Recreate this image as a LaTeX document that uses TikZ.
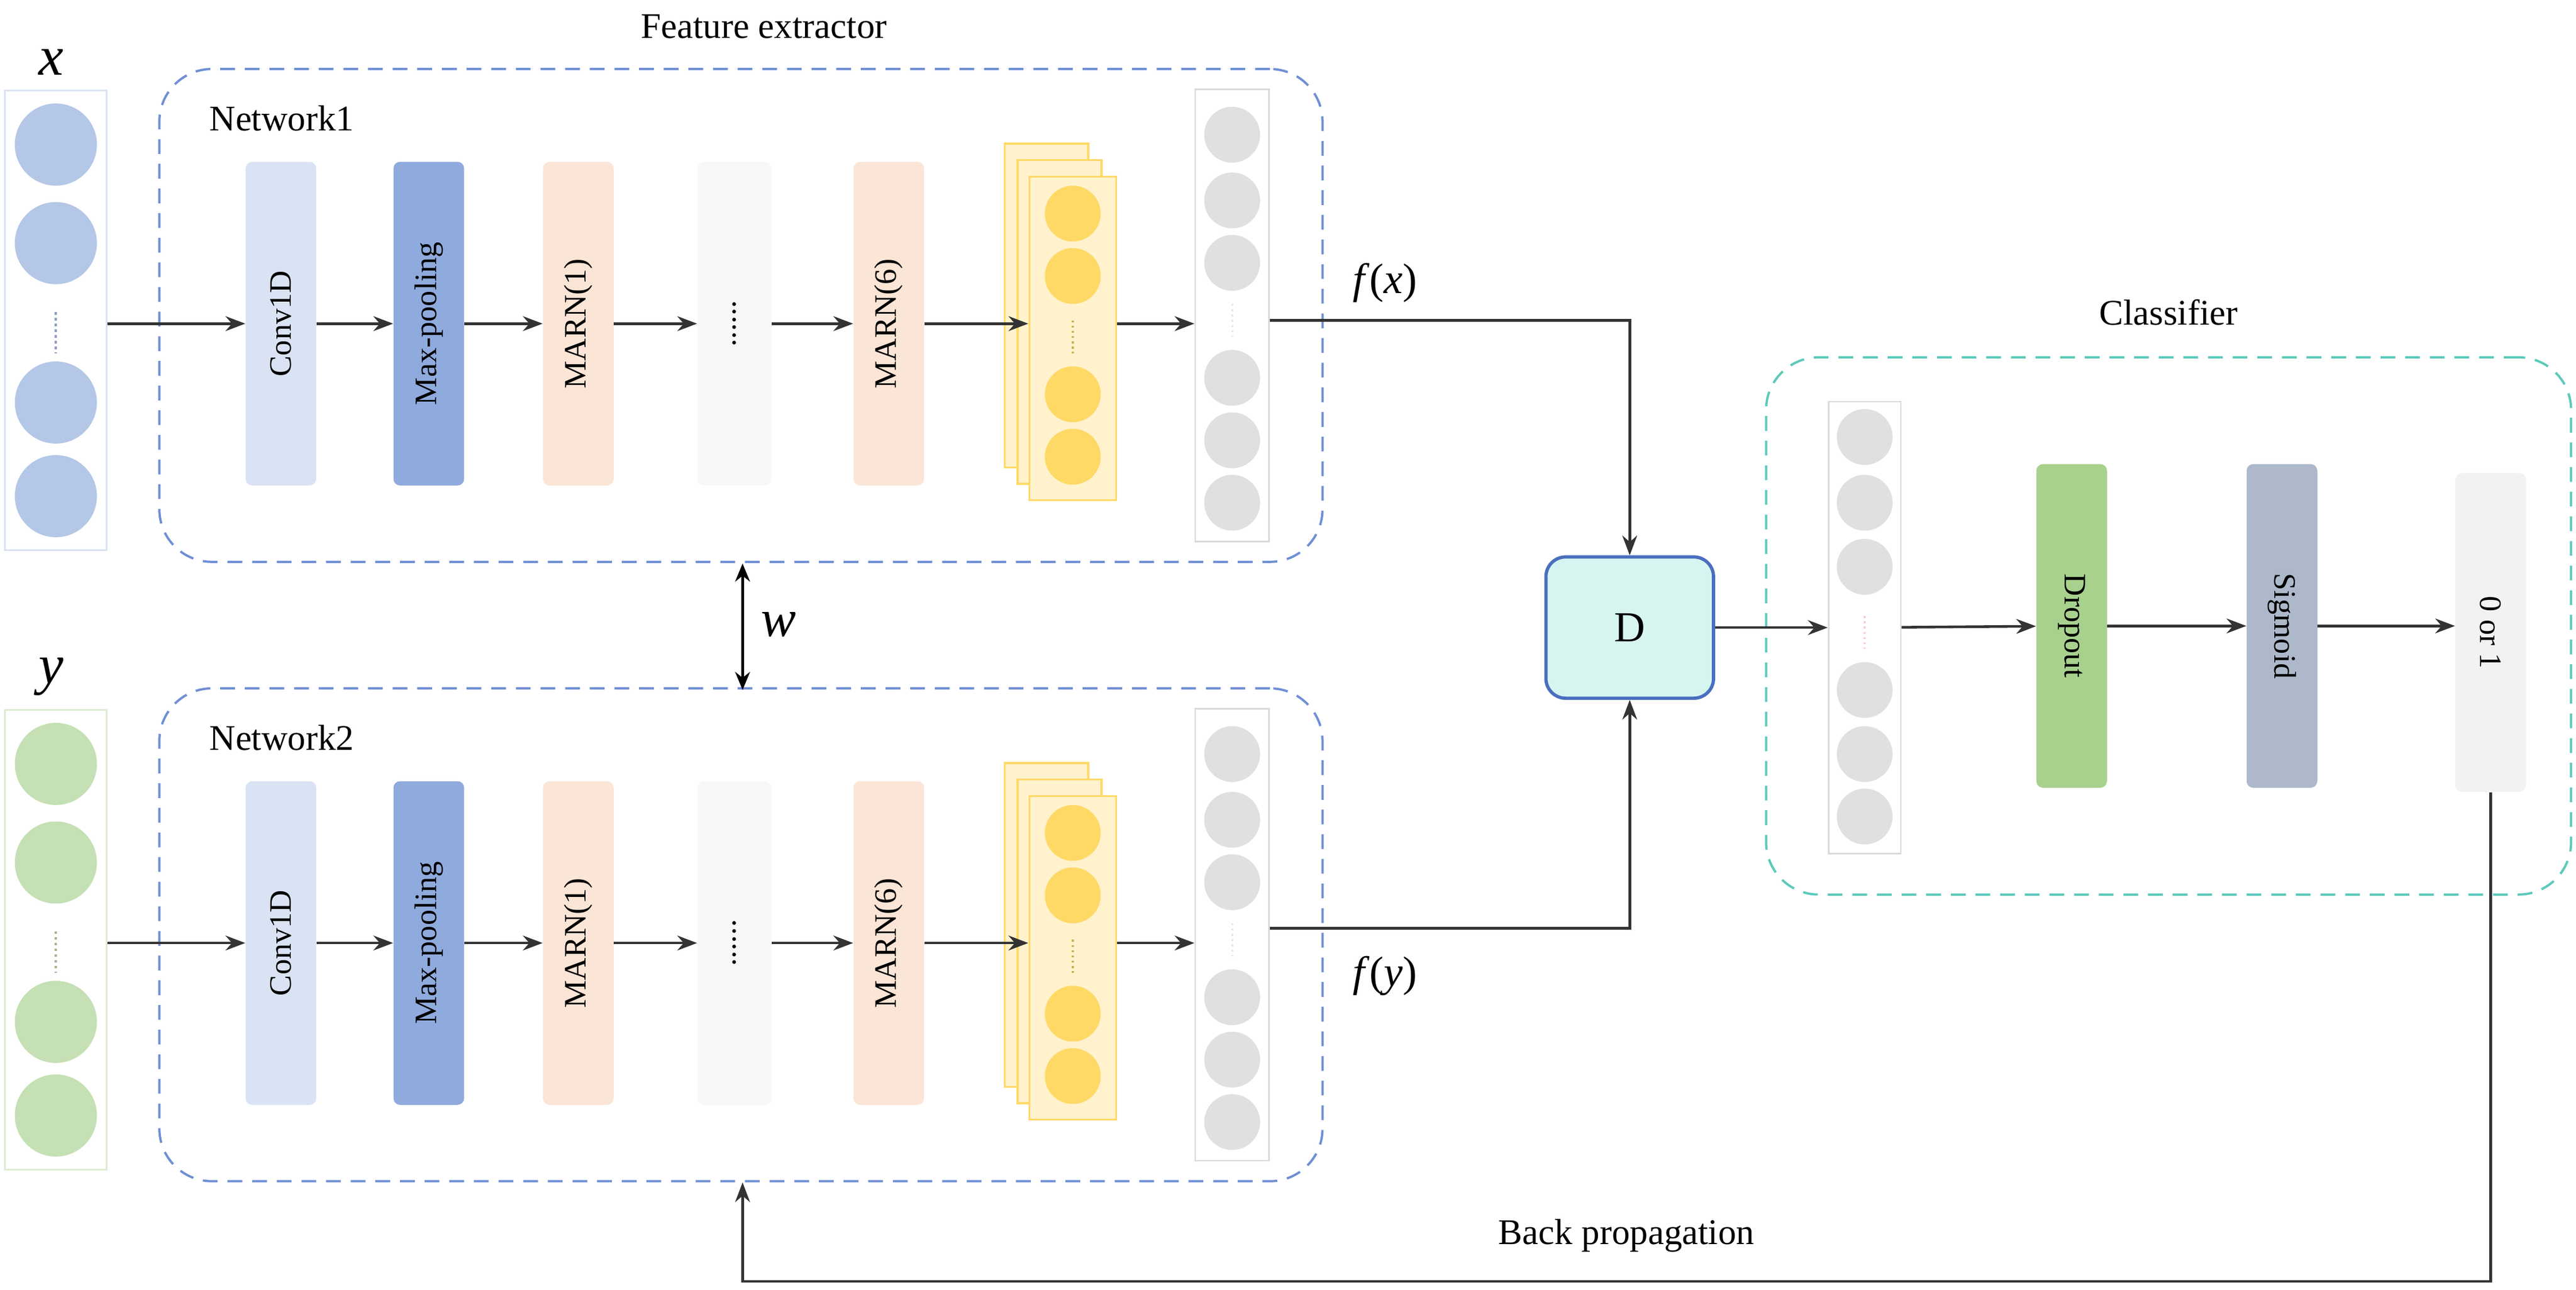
\documentclass[tikz,border=0pt]{standalone}
\usepackage{fontspec}
\setmainfont{Liberation Serif}
\usetikzlibrary{arrows.meta,shapes.geometric}
\definecolor{cconv}{HTML}{DAE3F3}
\definecolor{cmax}{HTML}{8FAADC}
\definecolor{cmarn}{HTML}{FBE5D6}
\definecolor{cblue}{HTML}{B4C7E7}
\definecolor{cgreen}{HTML}{C5E0B4}
\definecolor{cdrop}{HTML}{A9D18E}
\definecolor{csig}{HTML}{ADB9CA}
\definecolor{cyel}{HTML}{FFD966}
\definecolor{cyelf}{HTML}{FFF2CC}
\definecolor{cdash}{HTML}{6F8FD5}
\definecolor{cteal}{HTML}{5CC9BB}
\definecolor{cD}{HTML}{D6F5F1}
\definecolor{cDb}{HTML}{4A6FBF}
\tikzset{
 blk/.style={rectangle,rounded corners=4pt,minimum width=43pt,minimum height=197pt,inner sep=0pt,font=\fontsize{19}{19}\selectfont},
 arr/.style={-{Stealth[length=12pt,width=9pt]},line width=1.6pt,black!80},
 grp/.style={draw=cdash,dashed,dash pattern=on 9pt off 6pt,line width=1.4pt,rounded corners=32pt},
 circ/.style={ellipse,minimum width=#1,minimum height=#1,inner sep=0pt},
 lbl/.style={font=\fontsize{22}{22}\selectfont},
}
\newcommand{\mynet}[4]{%
 \begin{scope}[yshift=-#1pt]
 \node[draw=#4,line width=1pt,minimum width=62pt,minimum height=280pt,inner sep=0pt] (in#2) at (34,195) {};
 \foreach \yy in {88,148,245,302} \node[circ=50pt,fill=#3] at (34,\yy) {};
 \draw[#3!80!black,dotted,line width=1.5pt] (34,190) -- (34,215);
 \node[grp,minimum width=708pt,minimum height=300pt] (g#2) at (451,192) {};
 \node[blk,fill=cconv] (conv#2) at (171,197) {\rotatebox{90}{Conv1D}};
 \node[blk,fill=cmax] (max#2) at (261,197) {\rotatebox{90}{Max-pooling}};
 \node[blk,fill=cmarn] (m1#2) at (352,197) {\rotatebox{90}{MARN(1)}};
 \node[blk,fill=black!3,minimum width=45pt] (dd#2) at (447,197) {\rotatebox{90}{......}};
 \node[blk,fill=cmarn] (m6#2) at (541,197) {\rotatebox{90}{MARN(6)}};
 \node[draw=cyel,fill=cyelf,line width=1.2pt,minimum width=51pt,minimum height=197pt,inner sep=0pt] at (637,186) {};
 \node[draw=cyel,fill=cyelf,line width=1.2pt,minimum width=51pt,minimum height=197pt,inner sep=0pt] at (645,196) {};
 \node[draw=cyel,fill=cyelf,line width=1.2pt,minimum width=53pt,minimum height=197pt,inner sep=0pt] (yel#2) at (653,206) {};
 \foreach \yy in {130,168,240,278} \node[circ=34pt,fill=cyel] at (653,\yy) {};
 \draw[cyel!80!black,dotted,line width=1.2pt] (653,195) -- (653,215);
 \node[draw=black!15,line width=1pt,minimum width=45pt,minimum height=275pt,inner sep=0pt] (out#2) at (750,192) {};
 \foreach \yy in {82,122,160,230,268,306} \node[circ=34pt,fill=black!12] at (750,\yy) {};
 \draw[black!10,dotted,line width=1.2pt] (750,185) -- (750,205);
 \draw[arr] (in#2.east|-conv#2) -- (conv#2);
 \draw[arr] (conv#2) -- (max#2);
 \draw[arr] (max#2) -- (m1#2);
 \draw[arr] (m1#2) -- (dd#2);
 \draw[arr] (dd#2) -- (m6#2);
 \draw[arr] (m6#2) -- (m6#2-|yel#2.west);
 \draw[arr] (yel#2.east|-m6#2) -- (out#2.west|-m6#2);
 \end{scope}}
\begin{document}
\begin{tikzpicture}[x=1pt,y=-1pt]
\useasboundingbox (0,0) rectangle (1568,785);
\mynet{0}{a}{cblue}{cblue!50}
\mynet{377}{b}{cgreen}{cgreen!60}
\node[font=\fontsize{34}{34}\selectfont\itshape] (xl) at (31,38) {x};
\node[font=\fontsize{34}{34}\selectfont\itshape] (yl) at (31,412) {y};
\node[lbl] (fe) at (465,16) {Feature extractor};
\node[lbl,anchor=west] (n1) at (124,72) {Network1};
\node[lbl,anchor=west] (n2) at (124,449) {Network2};
\node[font=\fontsize{26}{26}\selectfont] (fx) at (843,172) {\textit{f}(\textit{x})};
\node[font=\fontsize{26}{26}\selectfont] (fy) at (843,594) {\textit{f}(\textit{y})};
\node[font=\fontsize{32}{32}\selectfont\itshape] (wl) at (474,380) {w};
\coordinate (wt) at (452,343);
\coordinate (wb) at (452,420);
\draw[{Stealth[length=11pt,width=9pt]}-{Stealth[length=11pt,width=9pt]},line width=1.6pt] (wt) -- (wb);
\node[draw=cDb,fill=cD,line width=2pt,rounded corners=12pt,minimum width=102pt,minimum height=86pt,font=\fontsize{26}{26}\selectfont] (D) at (992,382) {D};
\draw[arr] (outa.east|-0,195) -| (D.north);
\draw[arr] (outb.east|-0,565) -| (D.south);
\node[grp,draw=cteal,minimum width=490pt,minimum height=327pt] (cl) at (1320,381) {};
\node[lbl] (cll) at (1320,190) {Classifier};
\node[draw=black!15,line width=1pt,minimum width=44pt,minimum height=275pt,inner sep=0pt] (cin) at (1135,382) {};
\foreach \yy in {266,306,345,420,459,497} \node[circ=34pt,fill=black!12] at (1135,\yy) {};
\draw[red!20,dotted,line width=1.2pt] (1135,375) -- (1135,395);
\node[blk,fill=cdrop] (drop) at (1261,381) {\rotatebox{-90}{Dropout}};
\node[blk,fill=csig] (sig) at (1389,381) {\rotatebox{-90}{Sigmoid}};
\node[blk,fill=black!5,minimum height=194pt] (o1) at (1516,385) {\rotatebox{-90}{0 or 1}};
\draw[arr] (D) -- (cin);
\draw[arr] (cin) -- (drop);
\draw[arr] (drop) -- (sig);
\draw[arr] (sig) -- (o1.west|-sig);
\coordinate (bp) at (1516,780);
\draw[arr] (o1.south) -- (bp) -| (gb.south-|wt);
\node[lbl] (bpl) at (990,752) {Back propagation};
\end{tikzpicture}
\end{document}
